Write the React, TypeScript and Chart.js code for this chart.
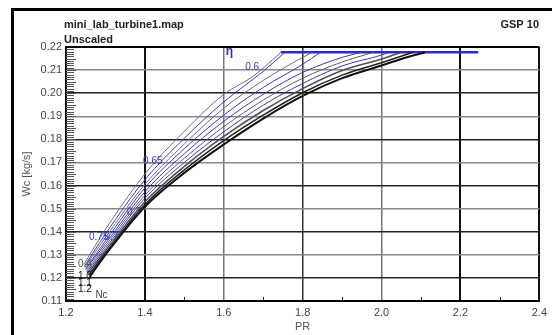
import React, { useEffect, useRef } from 'react';
import { Chart, registerables } from 'chart.js';
Chart.register(...registerables);

// Axis ranges / ticks
const xMin = 1.2;
const xMax = 2.4;
const xStep = 0.2;
const yMin = 0.11;
const yMax = 0.22;
const yStep = 0.01;
const xMinorTicks = [1.5, 1.7, 1.9, 2.1, 2.3];

// Choke level and choke line extent
const chokeWc = 0.2177;
const chokeLine: [number, number][] = [[1.745, chokeWc], [2.245, chokeWc]];

// Lines, top (left) to bottom (right)
const line1: [number, number][] = [[1.245, 0.1258], [1.3, 0.141], [1.4, 0.165], [1.5, 0.1835], [1.6, 0.1995], [1.675, 0.2074], [1.745, chokeWc]];
const line2: [number, number][] = [[1.247, 0.1252], [1.3, 0.139], [1.4, 0.1625], [1.5, 0.1805], [1.6, 0.1962], [1.7, 0.2095], [1.755, chokeWc]];
const line3: [number, number][] = [[1.248, 0.1247], [1.3, 0.1375], [1.4, 0.1605], [1.5, 0.178], [1.6, 0.1935], [1.7, 0.2055], [1.8, 0.2155], [1.825, chokeWc]];
const line4: [number, number][] = [[1.25, 0.1242], [1.3, 0.136], [1.4, 0.159], [1.5, 0.176], [1.6, 0.1905], [1.7, 0.2025], [1.8, 0.2125], [1.845, chokeWc]];
const line5: [number, number][] = [[1.25, 0.1237], [1.3, 0.1348], [1.4, 0.1573], [1.5, 0.1738], [1.6, 0.1878], [1.7, 0.1995], [1.8, 0.209], [1.9, 0.2155], [1.95, chokeWc]];
const line6: [number, number][] = [[1.252, 0.1232], [1.3, 0.1338], [1.4, 0.1558], [1.5, 0.1718], [1.6, 0.1855], [1.7, 0.197], [1.8, 0.2065], [1.9, 0.2135], [1.98, chokeWc]];
const line7: [number, number][] = [[1.253, 0.1226], [1.3, 0.1328], [1.4, 0.1545], [1.5, 0.17], [1.6, 0.1833], [1.7, 0.1948], [1.8, 0.2042], [1.9, 0.2118], [2.0, 0.2165], [2.02, chokeWc]];
const line8: [number, number][] = [[1.255, 0.122], [1.3, 0.1318], [1.4, 0.153], [1.5, 0.1683], [1.6, 0.1813], [1.7, 0.1925], [1.8, 0.202], [1.9, 0.2098], [2.0, 0.2148], [2.05, chokeWc]];
const line9: [number, number][] = [[1.257, 0.1212], [1.3, 0.1308], [1.4, 0.1518], [1.5, 0.1668], [1.6, 0.1795], [1.7, 0.1905], [1.8, 0.2002], [1.9, 0.2078], [2.0, 0.2132], [2.08, chokeWc]];
const line10: [number, number][] = [[1.26, 0.1205], [1.3, 0.13], [1.4, 0.1508], [1.5, 0.1655], [1.6, 0.1778], [1.7, 0.189], [1.8, 0.1988], [1.9, 0.2065], [2.0, 0.212], [2.05, 0.2148], [2.11, chokeWc]];

const allLines = [line1, line2, line3, line4, line5, line6, line7, line8, line9, line10];
const lineColors = ['#707070', '#3a3ac8', '#707070', '#3a3ac8', '#3a3ac8', '#606060', '#3a3ac8', '#505050', '#222222', '#111111'];
const lineWidths = [1, 1, 1, 1, 1, 1, 1, 1.5, 1.5, 2];

// Labels on the map: text, PR, Wc, colour
const labelTexts = ['η', '0.6', '0.65', '0.7', '0.75', '0.7', '0.4', '1.0', '1.1', '1.2', 'Nc'];
const labelPR = [1.614, 1.672, 1.42, 1.372, 1.283, 1.315, 1.248, 1.248, 1.248, 1.248, 1.29];
const labelWc = [0.2181, 0.2112, 0.1707, 0.1485, 0.1374, 0.1374, 0.1259, 0.1207, 0.1178, 0.1152, 0.1125];
const labelColors = ['#2a2ad0', '#3a3ac8', '#3a3ac8', '#3a3ac8', '#3a3ac8', '#3a3ac8', '#555555', '#111111', '#111111', '#111111', '#444444'];

const FONT = "'Liberation Sans', Arial, sans-serif";

const decoPlugin = {
  id: 'deco',
  afterDraw(chart: any) {
    const ctx = chart.ctx;
    const xs = chart.scales.x;
    const ys = chart.scales.y;
    const area = chart.chartArea;
    ctx.save();
    // y minor ticks (comb)
    ctx.strokeStyle = '#555';
    ctx.lineWidth = 1;
    for (let i = 1; i < 110; i++) {
      const v = yMin + i * 0.001;
      const y = Math.round(ys.getPixelForValue(v)) + 0.5;
      const len = i % 5 === 0 ? 10 : 8;
      ctx.beginPath();
      ctx.moveTo(area.left, y);
      ctx.lineTo(area.left + len, y);
      ctx.stroke();
    }
    // x minor ticks
    ctx.strokeStyle = '#111';
    for (const v of xMinorTicks) {
      const x = Math.round(xs.getPixelForValue(v)) + 0.5;
      ctx.beginPath();
      ctx.moveTo(x, area.bottom);
      ctx.lineTo(x, area.bottom - 4);
      ctx.stroke();
    }
    // map labels
    ctx.textBaseline = 'middle';
    ctx.textAlign = 'center';
    labelTexts.forEach((t, i) => {
      ctx.fillStyle = labelColors[i];
      ctx.font = (i === 0 ? 'bold 12px ' : '10px ') + FONT;
      ctx.fillText(t, xs.getPixelForValue(labelPR[i]), ys.getPixelForValue(labelWc[i]));
    });
    // header texts
    ctx.fillStyle = '#222';
    ctx.font = 'bold 11px ' + FONT;
    ctx.textAlign = 'left';
    ctx.fillText('mini_lab_turbine1.map', 64, 25);
    ctx.fillText('Unscaled', 64, 40);
    ctx.textAlign = 'right';
    ctx.fillText('GSP 10', 539, 25);
    // outer frame
    ctx.fillStyle = '#000';
    ctx.fillRect(11, 8, 552 - 11, 3);
    ctx.fillRect(11, 8, 3, 335 - 8);
    ctx.restore();
  },
};

export default function App() {
  const ref = useRef<HTMLCanvasElement>(null);
  useEffect(() => {
    if (!ref.current) return;
    const datasets: any[] = allLines.map((pts, i) => ({
      data: pts.map(([x, y]) => ({ x, y })),
      borderColor: lineColors[i],
      borderWidth: lineWidths[i],
      showLine: true,
      pointRadius: 0,
      cubicInterpolationMode: 'monotone',
      fill: false,
    }));
    datasets.push({
      data: chokeLine.map(([x, y]) => ({ x, y })),
      borderColor: '#2a2ad0',
      borderWidth: 2.5,
      showLine: true,
      pointRadius: 0,
      fill: false,
    });
    const chart = new Chart(ref.current, {
      type: 'scatter',
      data: { datasets },
      plugins: [decoPlugin],
      options: {
        animation: false,
        responsive: false,
        devicePixelRatio: 1,
        layout: { padding: { top: 47, right: 11, left: 0, bottom: 0 } },
        plugins: { legend: { display: false }, tooltip: { enabled: false } },
        scales: {
          x: {
            type: 'linear',
            min: xMin,
            max: xMax,
            afterFit: (s: any) => { s.height = 34; },
            ticks: {
              stepSize: xStep,
              autoSkip: false,
              padding: 5,
              color: '#444',
              font: { family: FONT, size: 11 },
              callback: (v: any) => Number(v).toFixed(1),
            },
            grid: {
              drawTicks: false,
              color: (c: any) => {
                const v = Math.round(c.tick.value * 10);
                if (v === 12 || v === 24 || v === 14 || v === 22) return '#111';
                if (v === 18) return '#333';
                return '#777';
              },
              lineWidth: (c: any) => {
                const v = Math.round(c.tick.value * 10);
                if (v === 12 || v === 24 || v === 14 || v === 22) return 2;
                return 1.5;
              },
            },
            border: { display: true, color: '#000', width: 2 },
            title: { display: true, text: 'PR', color: '#555', font: { family: FONT, size: 11 }, padding: { top: 0, bottom: 1 } },
          },
          y: {
            type: 'linear',
            min: yMin,
            max: yMax,
            afterFit: (s: any) => { s.width = 66; },
            ticks: {
              stepSize: yStep,
              autoSkip: false,
              padding: 4,
              color: '#444',
              font: { family: FONT, size: 11 },
              callback: (v: any) => Number(v).toFixed(2),
            },
            grid: {
              drawTicks: false,
              color: (c: any) => {
                const v = Math.round(c.tick.value * 100);
                if (v === 11 || v === 22) return '#000';
                return v % 2 === 0 ? '#222' : '#888';
              },
              lineWidth: (c: any) => {
                const v = Math.round(c.tick.value * 100);
                if (v === 11 || v === 22) return 2;
                return 1.5;
              },
            },
            border: { display: true, color: '#000', width: 2 },
            title: { display: true, text: 'Wc [kg/s]', color: '#555', font: { family: FONT, size: 11 }, padding: { top: 20, bottom: 0 } },
          },
        },
      } as any,
    });
    return () => chart.destroy();
  }, []);
  return (
    <div style={{ position: 'absolute', left: 0, top: 0, width: 552, height: 335, background: '#fff' }}>
      <canvas ref={ref} width={552} height={335} style={{ display: 'block', width: 552, height: 335 }} />
    </div>
  );
}
